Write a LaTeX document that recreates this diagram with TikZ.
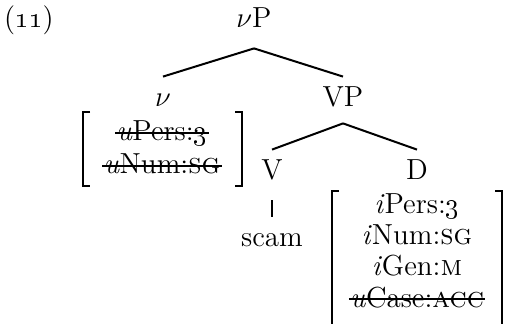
\documentclass[tikz,border=0pt]{standalone}
\begin{document}
\begin{tikzpicture}[x=0.5pt,y=-0.5pt,
  font=\fontsize{14.5}{17}\selectfont,
  lab/.style={anchor=base, inner sep=0pt, text height=15pt, text depth=8pt},
  feat/.style={anchor=base, inner xsep=0.5pt, inner ysep=0pt},
  edge/.style={line width=1pt},
  brk/.style={line width=1.2pt},
  strike/.style={line width=0.9pt}]
\useasboundingbox (0,0) rectangle (506,324);
% example number
\node[anchor=base, inner sep=0pt] (ex) at (29,28) {(\oldstylenums{11})};
% tree nodes
\node[lab] (vP) at (254,28) {$\nu$P};
\node[lab] (v) at (163,107) {$\nu$};
\node[lab] (VP) at (343,107) {VP};
\node[lab] (V) at (272,180) {V};
\node[lab] (D) at (417,180) {D};
\node[lab] (scam) at (272,247) {scam};
% features of v
\node[feat] (f1) at (162,141) {\textit{u}Pers:\oldstylenums{3}};
\node[feat] (f2) at (162,174) {\textit{u}Num:\textsc{sg}};
% features of D
\node[feat] (g1) at (417,214) {\textit{i}Pers:\oldstylenums{3}};
\node[feat] (g2) at (417,245) {\textit{i}Num:\textsc{sg}};
\node[feat] (g3) at (417,276) {\textit{i}Gen:\textsc{m}};
\node[feat] (g4) at (417,307) {\textit{u}Case:\textsc{acc}};
% strike-throughs
\foreach \n in {f1,f2,g4}
  \draw[strike] ([yshift=3.8pt]\n.base west) -- ([yshift=3.8pt]\n.base east);
% edges
\draw[edge] ([yshift=-2pt]vP.south) -- (v.north);
\draw[edge] ([yshift=-2pt]vP.south) -- (VP.north);
\draw[edge] (VP.south) -- (V.north);
\draw[edge] (VP.south) -- (D.north);
\draw[edge] ([yshift=-2pt]V.south) -- (scam.north);
% brackets
\draw[brk] (90,112) -- (83,112) -- (83,186) -- (90,186);
\draw[brk] (235,112) -- (242,112) -- (242,186) -- (235,186);
\draw[brk] (339,191) -- (332,191) -- (332,324);
\draw[brk] (495,191) -- (502,191) -- (502,324);
\end{tikzpicture}
\end{document}
